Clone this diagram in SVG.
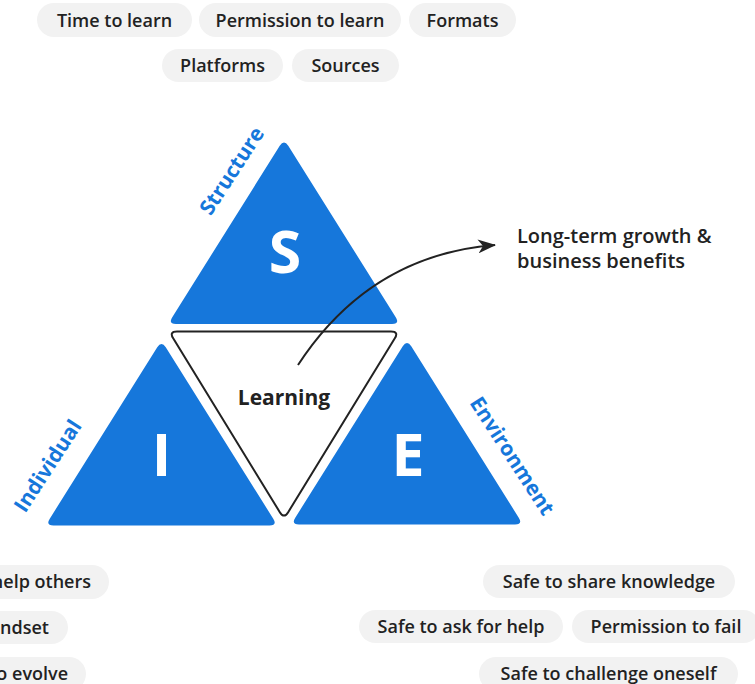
<svg xmlns="http://www.w3.org/2000/svg" width="755" height="684" viewBox="0 0 755 684">
<defs>
<style>
.pill{fill:#f2f2f2}
.pt{font-family:"Open Sans","Liberation Sans",sans-serif;font-weight:600;font-size:18px;fill:#222}
.tri{fill:#1677db}
.big{font-family:"Open Sans","Liberation Sans",sans-serif;font-weight:700;font-size:59px;fill:#fff;text-anchor:middle}
.lab{font-family:"Open Sans","Liberation Sans",sans-serif;font-weight:700;font-size:21px;fill:#1677db;text-anchor:middle}
.dark{font-family:"Open Sans","Liberation Sans",sans-serif;fill:#222}
</style>
<marker id="ah" markerUnits="userSpaceOnUse" markerWidth="18" markerHeight="14" viewBox="0 0 18 14" refX="17" refY="7" orient="auto">
<path d="M0,0 L18,7 L0,14 L5,7 Z" fill="#222"/>
</marker>
</defs>
<rect width="755" height="684" fill="#fff"/>

<g id="structure-pills">
<rect class="pill" x="37" y="3" width="155" height="34" rx="17"/>
<text class="pt" x="114.5" y="26.5" text-anchor="middle">Time to learn</text>
<rect class="pill" x="199" y="3" width="202" height="34" rx="17"/>
<text class="pt" x="300" y="26.5" text-anchor="middle">Permission to learn</text>
<rect class="pill" x="409" y="3" width="107" height="34" rx="17"/>
<text class="pt" x="462.5" y="26.5" text-anchor="middle">Formats</text>
<rect class="pill" x="162" y="49" width="121" height="33" rx="16.5"/>
<text class="pt" x="222.5" y="72" text-anchor="middle">Platforms</text>
<rect class="pill" x="292" y="49" width="107" height="33" rx="16.5"/>
<text class="pt" x="345.5" y="72" text-anchor="middle">Sources</text>
</g>

<g id="node-structure">
<path class="tri" d="M279.75,145.78 Q284,139 288.25,145.78 L395.75,317.22 Q400,324 392,324 L176,324 Q168,324 172.25,317.22 Z"/>
<text class="big" x="285" y="273">S</text>
<text class="lab" transform="translate(232,171) rotate(-57)" x="0" y="7">Structure</text>
</g>

<g id="node-individual">
<path class="tri" transform="translate(-122.5,201.5)" d="M279.75,145.78 Q284,139 288.25,145.78 L395.75,317.22 Q400,324 392,324 L176,324 Q168,324 172.25,317.22 Z"/>
<text class="big" x="161.5" y="476">I</text>
<text class="lab" transform="translate(48,466) rotate(-57)" x="0" y="7">Individual</text>
</g>

<g id="node-environment">
<path class="tri" transform="translate(123,200.5)" d="M279.75,145.78 Q284,139 288.25,145.78 L395.75,317.22 Q400,324 392,324 L176,324 Q168,324 172.25,317.22 Z"/>
<text class="big" x="408" y="476">E</text>
<text class="lab" transform="translate(512,456) rotate(57)" x="0" y="7">Environment</text>
</g>

<g id="node-learning">
<path d="M177,331.5 L391,331.5 Q399,331.5 394.82,338.32 L288.18,512.18 Q284,519 279.82,512.18 L173.18,338.32 Q169,331.5 177,331.5 Z" fill="#fff" stroke="#222" stroke-width="2"/>
<text class="dark" x="284" y="405" text-anchor="middle" font-size="21" font-weight="700">Learning</text>
</g>

<g id="connectors">
<path d="M298,365 Q370,255 495,245" fill="none" stroke="#222" stroke-width="2" marker-end="url(#ah)"/>
</g>

<g id="node-outcome">
<text class="dark" x="517" y="243" font-size="20" font-weight="600">Long-term growth &amp;</text>
<text class="dark" x="517" y="268" font-size="20" font-weight="600">business benefits</text>
</g>

<g id="individual-pills">
<rect class="pill" x="-100" y="565" width="209" height="34" rx="17"/>
<text class="pt" x="91" y="588" text-anchor="end">help others</text>
<rect class="pill" x="-100" y="611" width="168" height="33" rx="16.5"/>
<text class="pt" x="49" y="634" text-anchor="end">ndset</text>
<rect class="pill" x="-100" y="657" width="186" height="34" rx="17"/>
<text class="pt" x="68" y="680" text-anchor="end">o evolve</text>
</g>

<g id="environment-pills">
<rect class="pill" x="483" y="565" width="252" height="33" rx="16.5"/>
<text class="pt" x="609" y="588" text-anchor="middle">Safe to share knowledge</text>
<rect class="pill" x="359" y="610" width="204" height="33" rx="16.5"/>
<text class="pt" x="461" y="633" text-anchor="middle">Safe to ask for help</text>
<rect class="pill" x="572" y="610" width="188" height="33" rx="16.5"/>
<text class="pt" x="666" y="633" text-anchor="middle">Permission to fail</text>
<rect class="pill" x="479" y="657" width="259" height="34" rx="17"/>
<text class="pt" x="608.5" y="680" text-anchor="middle">Safe to challenge oneself</text>
</g>
</svg>
